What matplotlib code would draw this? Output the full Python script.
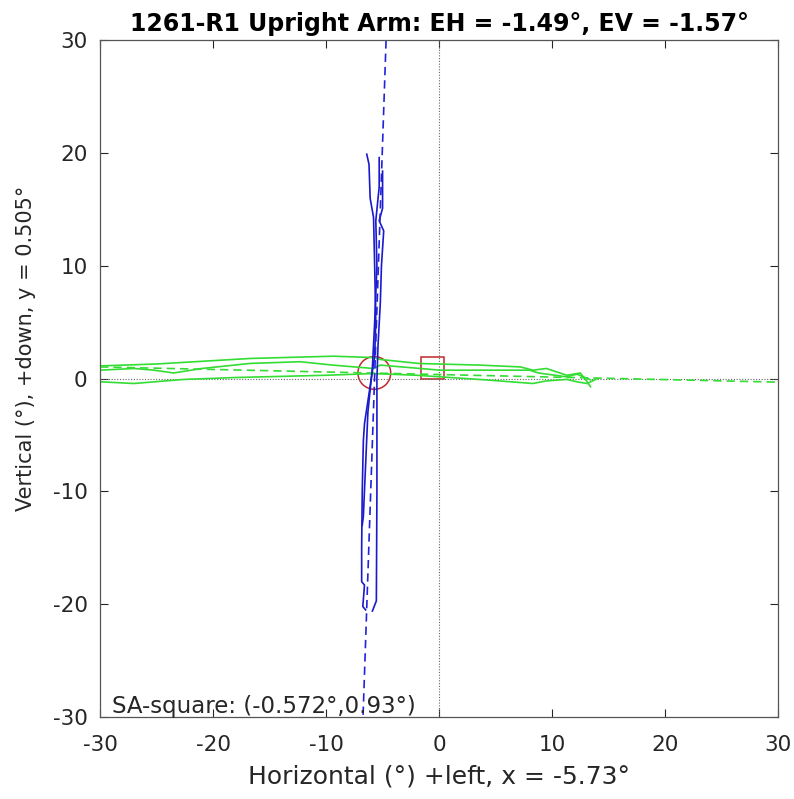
import numpy as np
import matplotlib.pyplot as plt
from matplotlib.patches import Circle, Rectangle

plt.rcParams['font.family'] = ['DejaVu Sans']
plt.rcParams['axes.unicode_minus'] = False

title = "1261-R1 Upright Arm: EH = -1.49°, EV = -1.57°"
xlabel = "Horizontal (°) +left, x = -5.73°"
ylabel = "Vertical (°), +down, y = 0.505°"
note = "SA-square: (-0.572°,0.93°)"

ticks = [-30, -20, -10, 0, 10, 20, 30]

# eye position centre and SA square centre
cx, cy = -5.73, 0.505
sq_x, sq_y = -0.572, 0.93

# vertical (blue) traces
blue1_x = [-6.4, -6.2, -6.1, -5.8, -5.7, -5.6, -5.7, -6.0, -6.3, -6.6, -6.7, -6.8, -6.85, -6.85, -6.6, -6.75, -6.5]
blue1_y = [19.9, 19.0, 16.0, 14.3, 10.0, 5.0, 2.0, 0.0, -2.0, -4.0, -5.5, -10.0, -15.0, -18.0, -18.3, -20.2, -20.5]
blue2_x = [-5.0, -5.0, -5.3, -4.9, -5.1, -5.2, -5.4, -5.5, -5.5, -5.5, -5.55, -5.9]
blue2_y = [18.4, 15.1, 14.0, 13.1, 10.0, 6.7, 3.0, 0.0, -3.7, -10.0, -19.7, -20.6]
blue3_x = [-5.3, -5.3, -5.6, -5.5, -5.7, -5.9, -6.1, -6.3, -6.7, -6.8]
blue3_y = [19.6, 17.0, 14.0, 10.0, 5.0, 1.0, -1.0, -3.0, -12.2, -13.0]

# horizontal (green) traces
green1_x = [-30, -25, -16.7, -9.35, -5.8, -5.2, -1.7, 3.6, 7.2, 8.3, 9.5, 11.3, 12.5, 13.1, 13.4]
green1_y = [1.13, 1.3, 1.79, 1.99, 1.87, 1.7, 1.34, 1.2, 1.04, 0.75, 0.9, 0.3, 0.5, -0.28, -0.72]
green2_x = [-30, -27, -25.2, -23.5, -21.0, -16.7, -12.3, -9.4, -5.8, -5.2, 0.1, 3.6, 8.0, 8.8, 11.3, 12.2, 13.4]
green2_y = [0.75, 0.9, 0.75, 0.5, 0.9, 1.35, 1.5, 1.2, 0.9, 1.2, 0.75, 0.75, 0.75, 0.5, 0.16, 0.4, -0.1]
green3_x = [-30, -27, -22.6, -18.0, -10.0, -5.8, -2.0, 0.1, 4.0, 8.3, 9.5, 11.3, 12.3, 13.1, 14.0]
green3_y = [-0.28, -0.43, -0.07, 0.1, 0.3, 0.45, 0.3, 0.16, -0.1, -0.43, -0.2, -0.07, -0.3, -0.43, 0.0]

# fitted lines
blue_fit_x = [-4.69, -6.73]
blue_fit_y = [30, -30]
green_fit_x = [-30, 30]
green_fit_y = [1.04, -0.31]

fig = plt.figure(figsize=(7.94, 7.99), dpi=100)
ax = fig.add_axes([0.126, 0.1026, 0.854, 0.847])

ax.axvline(0, color='#666666', lw=0.8, ls=(0, (1, 1.5)))
ax.axhline(0, color='#666666', lw=0.8, ls=(0, (1, 1.5)))

for gx, gy in [(green1_x, green1_y), (green2_x, green2_y), (green3_x, green3_y)]:
    ax.plot(gx, gy, color='#33dd33', lw=1.2)
ax.plot(green_fit_x, green_fit_y, color='#33dd33', lw=1.2, ls=(0, (5, 3)))

for bx, by in [(blue1_x, blue1_y), (blue2_x, blue2_y), (blue3_x, blue3_y)]:
    ax.plot(bx, by, color='#1a1acc', lw=1.2)
ax.plot(blue_fit_x, blue_fit_y, color='#2222dd', lw=1.2, ls=(0, (5, 3)))

ax.add_patch(Circle((cx, cy), 1.45, fill=False, ec='#c02a2a', lw=1.1))
ax.add_patch(Rectangle((sq_x - 1.0, sq_y - 1.0), 2.0, 2.0, fill=False, ec='#c02a2a', lw=1.1))

ax.text(-28.95, -30.1, note, fontsize=16.5, color='#262626', va='bottom', ha='left')

ax.set_xlim(-30, 30)
ax.set_ylim(-30, 30)
ax.set_xticks(ticks)
ax.set_yticks(ticks)
ax.tick_params(direction='in', length=6, width=0.8, top=True, right=True,
               labelsize=15.5, labelcolor='#262626', color='#262626')
ax.tick_params(axis='x', pad=13)
ax.tick_params(axis='y', pad=9)
for s in ax.spines.values():
    s.set_color('#555555')
    s.set_linewidth(0.9)

ax.set_title(title, fontsize=17, fontweight='bold', pad=7)
ax.set_xlabel(xlabel, fontsize=18, color='#262626', labelpad=7)
ax.set_ylabel(ylabel, fontsize=15, color='#262626')
ax.yaxis.set_label_coords(-0.095, 0.545)

plt.savefig("out.png", dpi=100)
